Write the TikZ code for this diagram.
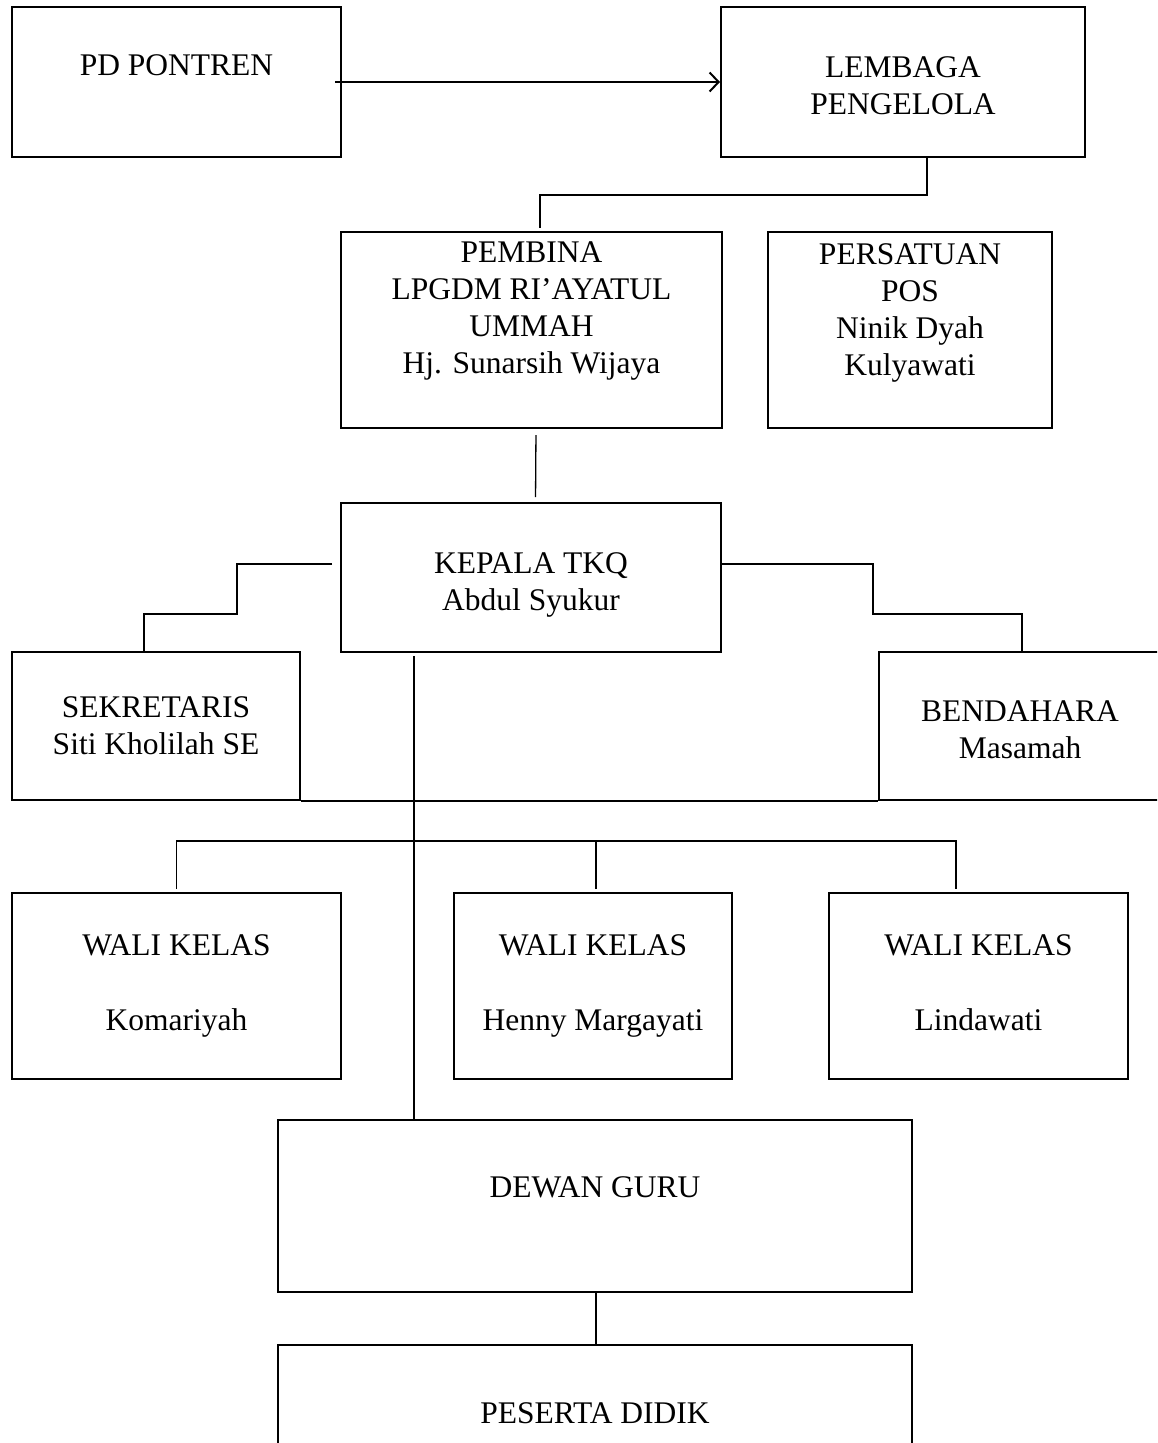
\documentclass[tikz,border=0pt]{standalone}
\usepackage{fontspec}
\setmainfont{Liberation Serif}
\usetikzlibrary{arrows.meta}

\begin{document}
\begin{tikzpicture}[x=1pt, y=-1pt]

\tikzstyle{box1}=[rectangle, draw, line width=2pt, inner sep=0pt, align=center, font=\fontsize{31.5}{37}\selectfont]
\tikzstyle{link}=[line width=1.3pt]
\tikzstyle{arrow}=[line width=2pt, -{Straight Barb[length=9pt,width=19pt,line width=2pt]}]

\clip (0,0) rectangle (1157,1443);
\fill[white] (0,0) rectangle (1157,1443);

% top row
\node (pd) [box1, minimum width=329pt, minimum height=150pt] at (176.5,82) {PD PONTREN\\[-3pt]\mbox{}};
\node (lem) [box1, minimum width=364pt, minimum height=150pt] at (903,82) {\rule{0pt}{29pt}LEMBAGA\\PENGELOLA};

% pembina
\node (pemb) [box1, minimum width=381pt, minimum height=196pt] at (531.5,330) {PEMBINA\\LPGDM RI’AYATUL\\UMMAH\\Hj. Sunarsih Wijaya\\[8pt]\mbox{}};
\node (pers) [box1, minimum width=284pt, minimum height=196pt] at (910,330) {PERSATUAN\\POS\\Ninik Dyah\\Kulyawati\\[4pt]\mbox{}};

% kepala
\node (kep) [box1, minimum width=380pt, minimum height=149pt] at (531,577.5) {\rule{0pt}{35pt}KEPALA TKQ\\Abdul Syukur};
\node (sek) [box1, minimum width=288pt, minimum height=148pt] at (156,726) {SEKRETARIS\\Siti Kholilah SE};
\node (ben) [box1, minimum width=282pt, minimum height=148pt] at (1020,726) {\rule{0pt}{28pt}BENDAHARA\\Masamah};

% wali kelas
\node (w1) [box1, minimum width=329pt, minimum height=186pt] at (176.5,986) {WALI KELAS\\[38pt]Komariyah};
\node (w2) [box1, minimum width=278pt, minimum height=186pt] at (593,986) {WALI KELAS\\[38pt]Henny Margayati};
\node (w3) [box1, minimum width=299pt, minimum height=186pt] at (978.5,986) {WALI KELAS\\[38pt]Lindawati\vphantom{y}};

% bottom
\node (dew) [box1, line width=1.3pt, minimum width=634pt, minimum height=172pt] at (595,1206) {DEWAN GURU\\\mbox{}};
\node (pes) [box1, line width=1.3pt, minimum width=634pt, minimum height=136pt] at (595,1413) {PESERTA DIDIK};

\draw [arrow] ([xshift=-7pt]pd.east) -- (lem.west);
\draw [link, shorten >=3pt] ([xshift=24pt]lem.south) -- ++(0,37) -| ([xshift=8.5pt]pemb.north);
\draw [link, shorten <=6pt, shorten >=5pt] ([xshift=4.5pt]pemb.south) -- ([xshift=4.5pt]kep.north);

\draw [link] ([yshift=13.5pt,xshift=-8pt]kep.west) -- ++(-95,0) -- ++(0,50) -| ([xshift=-12pt]sek.north);
\draw [link] ([yshift=13.5pt]kep.east) -- ++(151,0) -- ++(0,50) -| ([xshift=2pt]ben.north);
\draw [line width=2pt] (sek.south east) -- (ben.south west);

\draw [link, shorten <=3pt] ([xshift=-117pt]kep.south) -- ([xshift=-117pt]kep.south |- dew.north);
\draw [link] ([yshift=3pt]w1.north) -- ++(0,-48) -| ([xshift=-22.5pt,yshift=3pt]w3.north);
\draw [link] ([xshift=3pt,yshift=3pt]w2.north) -- ++(0,-48);

\draw [link] ([xshift=1pt]dew.south) -- ([xshift=1pt]pes.north);

\end{tikzpicture}
\end{document}
